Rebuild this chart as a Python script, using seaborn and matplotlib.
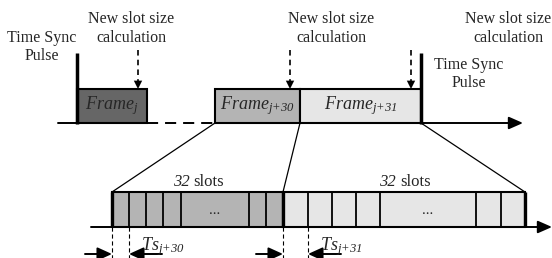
import matplotlib
matplotlib.use('Agg')
import matplotlib.pyplot as plt
import seaborn as sns
from matplotlib.patches import Rectangle

sns.set_theme(style='white')
plt.rcParams['font.family'] = ['Liberation Serif', 'DejaVu Serif']
plt.rcParams['mathtext.fontset'] = 'custom'
plt.rcParams['mathtext.rm'] = 'Liberation Serif:italic'
plt.rcParams['mathtext.it'] = 'Liberation Serif:italic'
plt.rcParams['lines.scale_dashes'] = False

# ---- content ----
calc_lines = ['New slot size', 'calculation']
calc_text_x = [131, 331, 508]
calc_arrow_x = [138, 290, 411]
pulse_lines = ['Time Sync', 'Pulse']
pulse_x = [77, 421]
pulse_text_x = [42, 469]
pulse_text_y = [38, 65]
frame_names = [r'$Frame_{j}$', r'$Frame_{j{+}30}$', r'$Frame_{j{+}31}$']
frame_start = [77, 215, 300]
frame_end = [147, 300, 421]
frame_colors = ['#666666', '#b4b4b4', '#e6e6e6']
slot_labels = [r'$Ts_{j{+}30}$', r'$Ts_{j{+}31}$']
slot_edges = [[112, 129, 146, 163, 181, 249, 266, 283],
              [283, 308, 332, 356, 380, 476, 501, 525]]
slot_colors = ['#b4b4b4', '#e6e6e6']
slot_counts = ['32', '32']

W, H = 552, 258
fig = plt.figure(figsize=(W / 100, H / 100), dpi=100)
ax = fig.add_axes([0, 0, 1, 1])
ax.set_xlim(0, W)
ax.set_ylim(H, 0)
ax.axis('off')

FS = 11.5
k = 'black'
top_base = 123
box_top = 89
bot_base = 227
slot_top = 192


def arrow(x0, y0, x1, y1, hl=0.5, hw=0.22, ms=17, lw=1.4):
    ax.annotate('', xy=(x1, y1), xytext=(x0, y0),
                arrowprops=dict(arrowstyle=f'-|>,head_length={hl},head_width={hw}',
                                color=k, lw=lw, mutation_scale=ms,
                                shrinkA=0, shrinkB=0))

# ---- top timeline ----
ax.plot([58, frame_end[0]], [top_base, top_base], color=k, lw=1.4)
ax.plot([frame_end[0], frame_start[1]], [top_base, top_base], color=k, lw=1.4,
        dashes=(8, 5))
arrow(frame_start[1], top_base, 523, top_base)

for s, e, c, name in zip(frame_start, frame_end, frame_colors, frame_names):
    ax.add_patch(Rectangle((s, box_top), e - s, top_base - box_top,
                           facecolor=c, edgecolor=k, lw=1.5, zorder=2))
    ax.text((s + e) / 2, 106, name, ha='center', va='center', fontsize=FS + 1.5,
            zorder=3)

for px in pulse_x:
    ax.plot([px, px], [53, top_base + 1], color=k, lw=2.5, zorder=4,
            solid_capstyle='butt')
for tx, ty in zip(pulse_text_x, pulse_text_y):
    for i, ln in enumerate(pulse_lines):
        ax.text(tx, ty + 18 * i, ln, ha='center', va='center', fontsize=FS)

for tx, axx in zip(calc_text_x, calc_arrow_x):
    for i, ln in enumerate(calc_lines):
        ax.text(tx, 19 + 19 * i, ln, ha='center', va='center', fontsize=FS)
    ax.plot([axx, axx], [50, 82], color=k, lw=1.2, dashes=(4, 3))
    arrow(axx, 80, axx, box_top, hl=0.5, hw=0.25, ms=12, lw=0.01)

# ---- zoom lines ----
ax.plot([frame_start[1], slot_edges[0][0]], [top_base, slot_top], color=k, lw=0.9)
ax.plot([frame_end[1], slot_edges[0][-1]], [top_base, slot_top], color=k, lw=0.9)
ax.plot([frame_end[2], slot_edges[1][-1]], [top_base, slot_top], color=k, lw=0.9)

# ---- bottom timeline ----
arrow(91, bot_base, 552, bot_base)
for g, (edges, c, cnt, lab) in enumerate(zip(slot_edges, slot_colors,
                                              slot_counts, slot_labels)):
    ax.add_patch(Rectangle((edges[0], slot_top), edges[-1] - edges[0],
                           bot_base - slot_top, facecolor=c, edgecolor=k,
                           lw=1.5, zorder=2))
    for x in edges[1:-1]:
        ax.plot([x, x], [slot_top, bot_base], color=k, lw=1.3, zorder=3)
    cx = (edges[0] + edges[-1]) / 2
    ax.text(cx - 8, 182, cnt, ha='right', va='center', fontsize=FS + 0.5,
            style='italic')
    ax.text(cx - 4, 182, 'slots', ha='left', va='center', fontsize=FS + 0.5)
    ax.text((edges[4] + edges[5]) / 2, 211, '...', ha='center', va='center',
            fontsize=FS - 1)
    # dashed guides
    for x in edges[:2]:
        ax.plot([x, x], [bot_base, H], color=k, lw=0.8, dashes=(3, 2))
    # arrows
    arrow(edges[0] - 27, 254, edges[0], 254, hl=0.55, hw=0.25, ms=16)
    arrow(edges[1] + 33, 254, edges[1], 254, hl=0.55, hw=0.25, ms=16)
    ax.text(edges[1] + 12, 250, lab, ha='left', va='baseline', fontsize=FS + 1.5)

# thick boundaries
for x in [slot_edges[0][0], slot_edges[0][-1], slot_edges[1][-1]]:
    ax.plot([x, x], [slot_top, bot_base], color=k, lw=2.4, zorder=4,
            solid_capstyle='butt')

fig.savefig('out.png', dpi=100)
